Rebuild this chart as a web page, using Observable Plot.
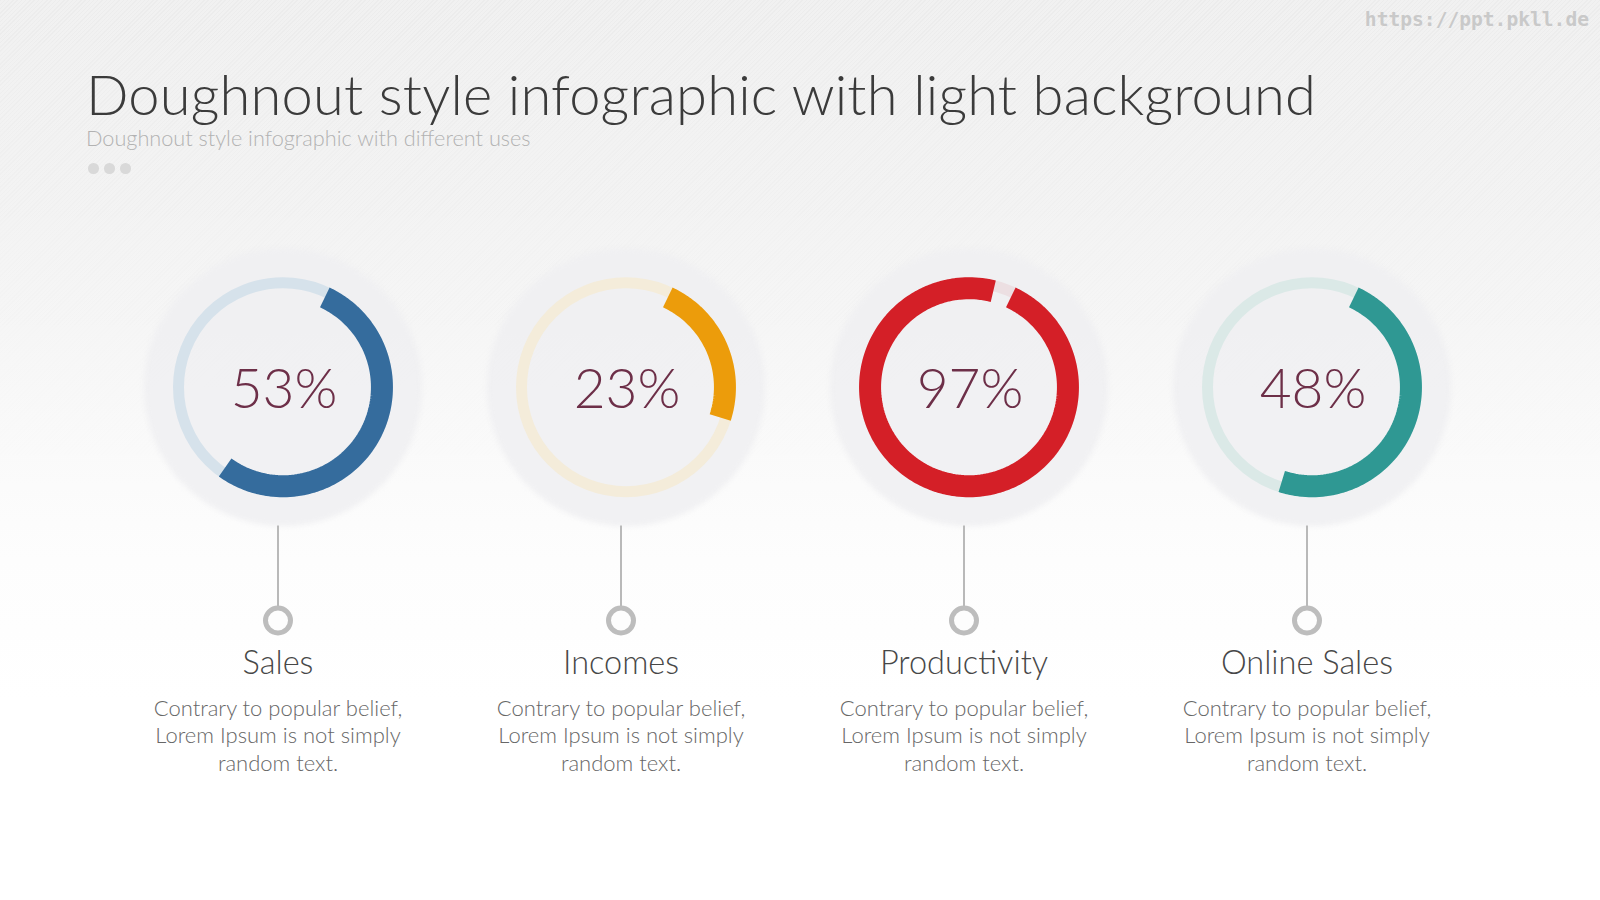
<!DOCTYPE html>
<html>
<head>
<meta charset="utf-8">
<script src="https://cdn.jsdelivr.net/npm/d3@7"></script>
<script src="https://cdn.jsdelivr.net/npm/@observablehq/plot@0.6"></script>
<style>
  html, body { margin: 0; padding: 0; }
  body {
    width: 1600px; height: 900px; overflow: hidden; position: relative;
    font-family: Lato, "Open Sans", sans-serif;
    background: linear-gradient(to bottom, #f1f1f1 0px, #f3f3f3 200px, #f6f6f6 330px, #fafafa 450px, #fdfdfd 560px, #ffffff 700px);
  }
  #texture {
    position: absolute; left: 0; top: 0; width: 1600px; height: 520px;
    background: repeating-linear-gradient(135deg, rgba(0,0,0,0.018) 0px, rgba(0,0,0,0.018) 1px, transparent 1px, transparent 3px);
    -webkit-mask-image: linear-gradient(to bottom, #000 0%, rgba(0,0,0,0.4) 50%, transparent 100%);
    mask-image: linear-gradient(to bottom, #000 0%, rgba(0,0,0,0.4) 50%, transparent 100%);
  }
  #header { position: relative; height: 200px; }
  #wm {
    position: absolute; right: 11px; top: 10px;
    font-family: "DejaVu Sans Mono", monospace; font-weight: bold; font-size: 19.6px; line-height: 1;
    color: #c9c9c9;
  }
  #title {
    position: absolute; left: 86px; top: 66px; white-space: nowrap;
    font-family: Lato, sans-serif; font-weight: 300; font-size: 56px; line-height: 1; color: #3b3b3b;
    letter-spacing: 0.2px;
  }
  #sub {
    position: absolute; left: 86px; top: 128px; white-space: nowrap;
    font-family: Lato, sans-serif; font-weight: 300; font-size: 21.7px; line-height: 1; color: #b2b2b2;
  }
  #dots span {
    position: absolute; top: 163px; width: 10.5px; height: 10.5px; border-radius: 50%; background: #d9d9d9;
  }
  #chart { position: relative; height: 700px; }
  #chart svg { display: block; }
</style>
</head>
<body>
<div id="texture"></div>
<div id="header">
  <div id="wm">https://ppt.pkll.de</div>
  <div id="title">Doughnout style infographic with light background</div>
  <div id="sub">Doughnout style infographic with different uses</div>
  <div id="dots"><span style="left:88px"></span><span style="left:104px"></span><span style="left:120px"></span></div>
</div>
<div id="chart"></div>
<script>
// ---- data ----
const categories = ["Sales", "Incomes", "Productivity", "Online Sales"];
const values = [53, 23, 97, 48]; // percent
const descriptions = [
  "Contrary to popular belief,\nLorem Ipsum is not simply\nrandom text.",
  "Contrary to popular belief,\nLorem Ipsum is not simply\nrandom text.",
  "Contrary to popular belief,\nLorem Ipsum is not simply\nrandom text.",
  "Contrary to popular belief,\nLorem Ipsum is not simply\nrandom text."
];

// ---- styles ----
const arcColors = ["#356c9d", "#ec9c0b", "#d41f27", "#2f9893"];
const trackColors = ["#d6e2eb", "#f4ecda", "#ecdfe2", "#dbe9e7"];
const START_DEG = 25;   // where each arc begins (clockwise from 12 o'clock)
const R_ARC = 99, R_TRACK = 104.5, R_HALO = 139;

// ---- tables built from the arrays ----
const items = categories.map((c, i) => ({category: c, value: values[i], description: descriptions[i]}));
const colorOf = d => arcColors[categories.indexOf(d.category)];
const trackOf = d => trackColors[categories.indexOf(d.category)];

// arc geometry: points along the circle, swept by each value
const arcPoints = items.flatMap(d => {
  const n = Math.max(2, Math.round(d.value * 2));
  return d3.range(n + 1).map(k => {
    const a = (START_DEG + (d.value / 100) * 360 * k / n) * Math.PI / 180;
    return {category: d.category, x: R_ARC * Math.sin(a), y: -R_ARC * Math.cos(a)};
  });
});

const W = 1600, H = 700;
const step = 343.2, mL = 105.8, mR = W - mL - 4 * step;
const cy = 186.7; // donut centre from top of the svg

const plot = Plot.plot({
  width: W, height: H,
  marginTop: 0, marginBottom: 0, marginLeft: mL, marginRight: mR,
  fx: {domain: categories, padding: 0, axis: null},
  x: {domain: [-step / 2, step / 2], axis: null},
  y: {domain: [-cy, H - cy], reverse: true, axis: null},
  style: {background: "transparent", overflow: "visible", fontFamily: "Lato, 'Open Sans', sans-serif"},
  marks: [
    Plot.dot(items, {fx: "category", x: 0, y: 0, dx: 5, r: R_HALO, fill: "#efeff2", fillOpacity: 0.9, className: "halo"}),
    Plot.dot(items, {fx: "category", x: 0, y: 0, dx: 5, r: R_TRACK, fill: "none", stroke: trackOf, strokeWidth: 11}),
    Plot.line(arcPoints, {fx: "category", x: "x", y: "y", z: "category", dx: 5, stroke: colorOf, strokeWidth: 22, strokeLinecap: "butt", strokeLinejoin: "round"}),
    Plot.text(items, {fx: "category", x: 0, y: 0, dx: 6, dy: 3, text: d => d.value + "%", fontSize: 55, fontWeight: 300, fill: "#6d2f48"}),
    Plot.ruleX(items, {fx: "category", x: 0, y1: 138.8, y2: 221, stroke: "#b9b9b9", strokeWidth: 2}),
    Plot.dot(items, {fx: "category", x: 0, y: 233.3, r: 12.5, stroke: "#bdbdbd", strokeWidth: 5, fill: "#fdfdfd"}),
    Plot.text(items, {fx: "category", x: 0, y: 276, text: "category", fontSize: 32.5, fontWeight: 300, fill: "#474747"}),
    Plot.text(items, {fx: "category", x: 0, y: 309, text: "description", lineAnchor: "top", lineHeight: 1.25, fontSize: 22, fontWeight: 300, fill: "#676767"})
  ]
});
document.getElementById("chart").appendChild(plot);
d3.select(plot).selectAll(".halo circle").style("filter", "blur(2.5px)");
</script>
</body>
</html>
